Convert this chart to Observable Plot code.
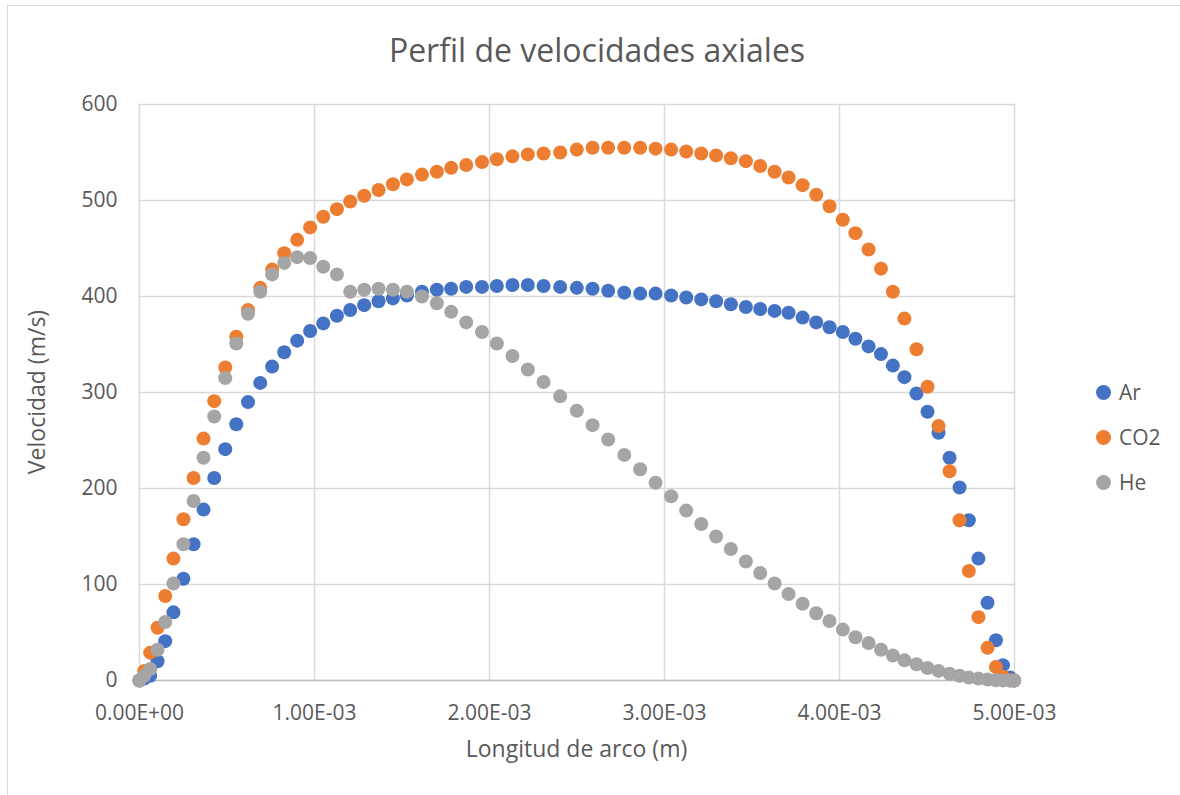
<!DOCTYPE html>
<html>
<head>
<meta charset="utf-8">
<script src="https://cdn.jsdelivr.net/npm/d3@7"></script>
<script src="https://cdn.jsdelivr.net/npm/@observablehq/plot@0.6"></script>
<style>
  body { margin: 0; background: #fff; font-family: "Open Sans", sans-serif; color: #595959; }
  #chart { position: relative; width: 1180px; height: 795px; overflow: hidden; }
  #frame { position: absolute; left: 7px; top: 5px; width: 1250px; height: 850px; border: 1px solid #d9d9d9; box-sizing: border-box; }
  #title { position: absolute; left: 7px; width: 1180px; top: 34px; text-align: center; font-size: 32px; line-height: 1; white-space: nowrap; }
  #xtitle { position: absolute; left: 139px; width: 875px; top: 737px; text-align: center; font-size: 23px; line-height: 1; white-space: nowrap; }
  #ytitle { position: absolute; left: 36px; top: 392px; font-size: 23px; line-height: 1; white-space: nowrap; transform: translate(-50%, -50%) rotate(-90deg); }
  #plot { position: absolute; left: 0; top: 80px; }
  #legend { position: absolute; left: 1096px; top: 0; }
  .item { position: absolute; left: 0; height: 30px; display: flex; align-items: center; font-size: 21px; white-space: nowrap; }
  .sw { width: 15px; height: 15px; border-radius: 50%; margin-right: 8px; }
</style>
</head>
<body>
<div id="chart">
  <div id="frame"></div>
  <div id="title">Perfil de velocidades axiales</div>
  <div id="plot"></div>
  <div id="ytitle">Velocidad (m/s)</div>
  <div id="xtitle">Longitud de arco (m)</div>
  <div id="legend"></div>
</div>
<script>
// Arc length along the wall (m)
const arcLength = [
  0, 0.027e-3, 0.061e-3, 0.103e-3, 0.147e-3, 0.194e-3, 0.251e-3, 0.309e-3, 0.366e-3, 0.427e-3,
  0.490e-3, 0.553e-3, 0.620e-3, 0.690e-3, 0.758e-3, 0.827e-3, 0.901e-3, 0.975e-3, 1.050e-3, 1.128e-3,
  1.204e-3, 1.284e-3, 1.366e-3, 1.448e-3, 1.528e-3, 1.614e-3, 1.699e-3, 1.781e-3, 1.867e-3, 1.957e-3,
  2.042e-3, 2.131e-3, 2.219e-3, 2.309e-3, 2.404e-3, 2.499e-3, 2.589e-3, 2.678e-3, 2.770e-3, 2.861e-3,
  2.949e-3, 3.038e-3, 3.124e-3, 3.210e-3, 3.295e-3, 3.379e-3, 3.465e-3, 3.547e-3, 3.629e-3, 3.709e-3,
  3.789e-3, 3.867e-3, 3.943e-3, 4.019e-3, 4.091e-3, 4.166e-3, 4.237e-3, 4.305e-3, 4.371e-3, 4.440e-3,
  4.503e-3, 4.566e-3, 4.629e-3, 4.686e-3, 4.739e-3, 4.794e-3, 4.846e-3, 4.894e-3, 4.934e-3, 4.975e-3,
  4.998e-3
];

// Axial velocity (m/s) for each gas
const velAr = [
  0, 2, 5, 20, 41, 71, 106, 142, 178, 211,
  241, 267, 290, 310, 327, 342, 354, 364, 372, 380,
  386, 391, 395, 398, 401, 405, 407, 408, 410, 410,
  411, 412, 412, 411, 410, 409, 408, 406, 404, 403,
  403, 401, 399, 397, 395, 392, 389, 387, 385, 383,
  378, 373, 368, 363, 356, 348, 340, 328, 316, 299,
  280, 258, 232, 201, 167, 127, 81, 42, 16, 3,
  0
];
const velCO2 = [
  0, 10, 29, 55, 88, 127, 168, 211, 252, 291,
  326, 358, 386, 409, 428, 445, 459, 472, 483, 491,
  499, 505, 511, 517, 522, 527, 530, 534, 537, 540,
  543, 546, 548, 549, 550, 553, 555, 555, 555, 555,
  554, 553, 551, 549, 547, 544, 541, 536, 530, 524,
  516, 506, 494, 480, 466, 449, 429, 405, 377, 345,
  306, 265, 218, 167, 114, 66, 34, 14, 4, 0,
  0
];
const velHe = [
  0, 5, 12, 32, 61, 101, 142, 187, 232, 275,
  315, 351, 382, 405, 423, 435, 441, 440, 431, 423,
  405, 407, 408, 407, 405, 400, 393, 384, 373, 363,
  351, 338, 324, 311, 296, 281, 266, 251, 235, 220,
  206, 192, 177, 163, 150, 137, 124, 112, 101, 90,
  80, 70, 62, 53, 45, 39, 32, 26, 21, 17,
  13, 10, 7, 5, 3, 2, 1, 0.3, 0.1, 0,
  0
];

const seriesNames = ["Ar", "CO2", "He"];
const seriesColors = ["#4472C4", "#ED7D31", "#A5A5A5"];
const xTicks = [0, 0.001, 0.002, 0.003, 0.004, 0.005];
const yTicks = [0, 100, 200, 300, 400, 500, 600];

// Long-format rows: Ar first, then CO2, then He on top
const valueSets = [velAr, velCO2, velHe];
const rows = [];
seriesNames.forEach((name, s) => {
  arcLength.forEach((x, i) => rows.push({ serie: name, x, v: valueSets[s][i] }));
});

// Excel-style scientific label: 1.00E-03
function sci(v) {
  if (v === 0) return "0.00E+00";
  const e = Math.floor(Math.log10(Math.abs(v)) + 1e-9);
  const m = v / Math.pow(10, e);
  return m.toFixed(2) + "E" + (e < 0 ? "-" : "+") + String(Math.abs(e)).padStart(2, "0");
}

const chart = Plot.plot({
  width: 1180,
  height: 715,
  marginLeft: 139,
  marginRight: 166,
  marginTop: 24,
  marginBottom: 115,
  x: { domain: [0, 0.005] },
  y: { domain: [0, 600] },
  color: { domain: seriesNames, range: seriesColors },
  style: { fontFamily: "Open Sans, sans-serif", fontSize: "21px", color: "#595959", background: "transparent", overflow: "visible" },
  marks: [
    Plot.gridY(yTicks, { stroke: "#d9d9d9", strokeOpacity: 1, strokeWidth: 1.5 }),
    Plot.gridX(xTicks, { stroke: "#d9d9d9", strokeOpacity: 1, strokeWidth: 1.5 }),
    Plot.ruleY([0], { stroke: "#bfbfbf", strokeWidth: 1.5 }),
    Plot.axisX(xTicks, { tickSize: 0, tickPadding: 25, tickFormat: sci, label: null }),
    Plot.axisY(yTicks, { tickSize: 0, tickPadding: 22, label: null }),
    Plot.dot(rows, { x: "x", y: "v", fill: "serie", r: 7, stroke: "none" })
  ]
});
document.getElementById("plot").appendChild(chart);

// Legend on the right
const legend = document.getElementById("legend");
const legendY = [392, 437, 482];
seriesNames.forEach((name, i) => {
  const item = document.createElement("div");
  item.className = "item";
  item.style.top = (legendY[i] - 15) + "px";
  const sw = document.createElement("span");
  sw.className = "sw";
  sw.style.background = seriesColors[i];
  item.appendChild(sw);
  item.appendChild(document.createTextNode(name));
  legend.appendChild(item);
});
</script>
</body>
</html>
